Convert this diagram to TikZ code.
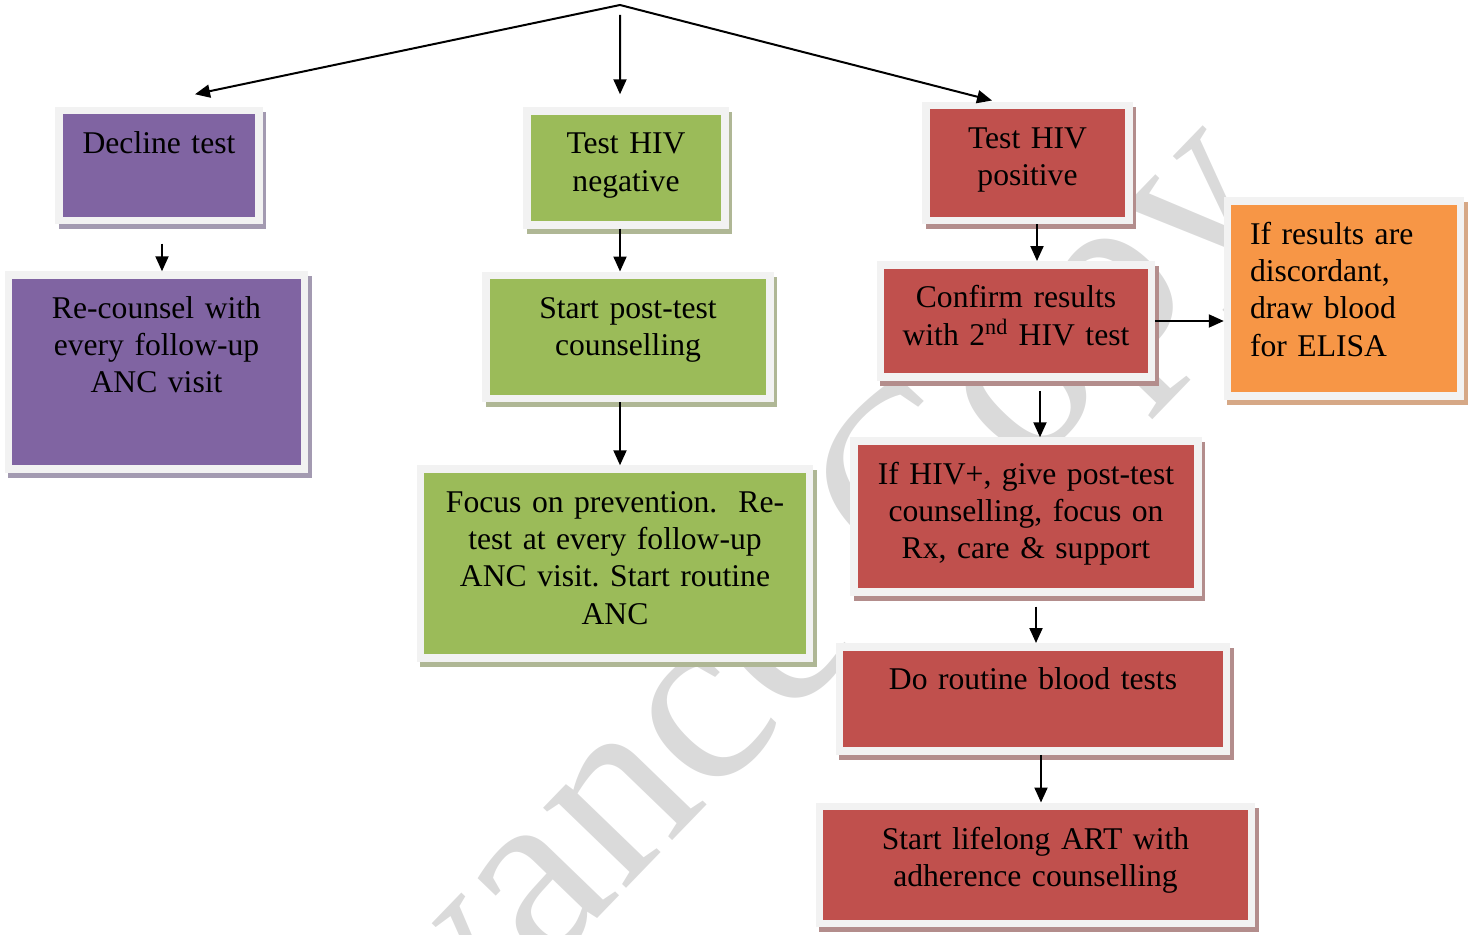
\documentclass[tikz,border=0pt]{standalone}
\usepackage{fontspec}
\setmainfont{Liberation Serif}
\usepackage{tikz}
\usetikzlibrary{arrows.meta, positioning, calc, shadows}

\definecolor{boxpurple}{HTML}{8064A2}
\definecolor{boxgreen}{HTML}{9BBB59}
\definecolor{boxred}{HTML}{C0504D}
\definecolor{boxorange}{HTML}{F79646}
\definecolor{rimgray}{HTML}{F2F2F2}
\definecolor{shpurple}{HTML}{A39AB1}
\definecolor{shgreen}{HTML}{AFB795}
\definecolor{shred}{HTML}{B38D8C}
\definecolor{shorange}{HTML}{D6A886}
\definecolor{wmgray}{HTML}{DADADA}

\begin{document}
\frenchspacing
\begin{tikzpicture}[
    x=0.02cm, y=-0.02cm,
    font=\fontsize{18pt}{21.3pt}\selectfont,
    box/.style={rectangle, draw=rimgray, line width=0.15cm, inner sep=0pt, text height=0.86cm, align=center},
    boxshadow/.style={drop shadow={shadow xshift=0.07cm, shadow yshift=-0.1cm, opacity=1, fill=#1, draw=#1, line width=0.15cm}},
    purplebox/.style={box, fill=boxpurple, boxshadow=shpurple},
    greenbox/.style={box, fill=boxgreen, boxshadow=shgreen},
    redbox/.style={box, fill=boxred, boxshadow=shred},
    orangebox/.style={box, fill=boxorange, boxshadow=shorange},
    arrow/.style={-{Triangle[length=0.3cm, width=0.26cm]}, draw=black, line width=0.04cm},
    roof/.style={{Triangle[length=0.3cm, width=0.26cm]}-{Triangle[length=0.3cm, width=0.26cm]}, draw=black, line width=0.04cm},
    watermark/.style={text=wmgray, font=\fontsize{143pt}{143pt}\selectfont, rotate=46, inner sep=0pt}
]
\useasboundingbox (0,0) rectangle (1477,935);

% Watermark
\begin{scope}
\clip (0,0) rectangle (1477,935);
\node (wmark) [watermark] at (722,703) {Advance Copy};
\end{scope}

% Nodes
\node (decline) [purplebox, text width=4.0cm, text depth=1.34cm] at (159,165.5) {Decline test};
\node (recounsel) [purplebox, text width=5.92cm, text depth=3.02cm] at (156.5,372) {Re-counsel with\\every follow-up\\ANC visit};

\node (testneg) [greenbox, text width=3.97cm, text depth=1.42cm] at (626,168) {Test HIV\\negative};
\node (posttest) [greenbox, text width=5.69cm, text depth=1.61cm] at (628,337) {Start post-test\\counselling};
\node (focus) [greenbox, text width=7.79cm, text depth=2.92cm] at (615,563.5) {Focus on prevention.\ \ Re-\\test at every follow-up\\ANC visit. Start routine\\ANC};

\node (testpos) [redbox, text width=4.06cm, text depth=1.45cm] at (1027.5,163) {Test HIV\\positive};
\node (confirm) [redbox, text width=5.43cm, text depth=1.39cm] at (1016,321) {Confirm results\\with 2\textsuperscript{nd} HIV test};
\node (discord) [orangebox, align=left, inner xsep=0.45cm, text width=3.76cm, text depth=3.04cm] at (1344,298.5) {If results are\\discordant,\\draw blood\\for ELISA};
\node (hivpos) [redbox, text width=6.89cm, text depth=2.16cm] at (1026,516.5) {If HIV+, give post-test\\counselling, focus on\\Rx, care \& support};
\node (routine) [redbox, text width=7.74cm, text depth=1.23cm] at (1033,699) {Do routine blood tests};
\node (art) [redbox, text width=8.64cm, text depth=1.49cm] at (1035.5,865) {Start lifelong ART with\\adherence counselling};

% Paths
\coordinate (apex) at (620,5);
\draw [roof] ([shift={(0.72cm,0.25cm)}]decline.north) -- (apex) -- ([shift={(-0.71cm,0.02cm)}]testpos.north);
\draw [arrow] ([yshift=-0.2cm]apex) -- ([shift={(-0.12cm,0.26cm)}]testneg.north);

\draw [arrow] ([shift={(0.06cm,-0.39cm)}]decline.south) -- ([xshift=0.06cm]decline.south |- recounsel.north);
\draw [arrow] ([xshift=-0.12cm]testneg.south) -- ([xshift=-0.12cm]testneg.south |- posttest.north);
\draw [arrow] ([xshift=-0.16cm]posttest.south) -- ([xshift=-0.16cm]posttest.south |- focus.north);
\draw [arrow] ([xshift=0.19cm]testpos.south) -- ([xshift=0.19cm]testpos.south |- confirm.north);
\draw [arrow] (confirm.east) -- (confirm.east -| discord.west);
\draw [arrow] ([shift={(0.48cm,-0.2cm)}]confirm.south) -- ([xshift=0.48cm]confirm.south |- hivpos.north);
\draw [arrow] ([shift={(0.2cm,-0.22cm)}]hivpos.south) -- ([xshift=0.2cm]hivpos.south |- routine.north);
\draw [arrow] ([xshift=0.16cm]routine.south) -- ([xshift=0.16cm]routine.south |- art.north);

\end{tikzpicture}
\end{document}
